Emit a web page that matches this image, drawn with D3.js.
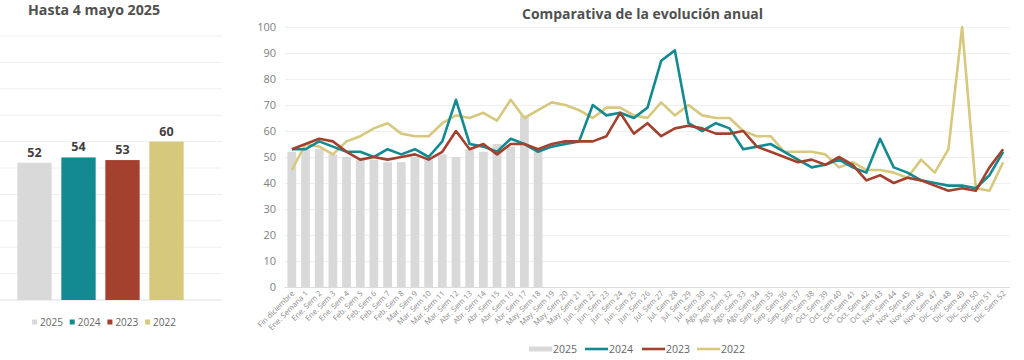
<!DOCTYPE html>
<html><head><meta charset="utf-8">
<script src="https://cdn.jsdelivr.net/npm/d3@7"></script>
<style>
body{margin:0;background:#fff;}
svg{display:block;font-family:"Open Sans",sans-serif;}
</style></head>
<body>
<svg id="c" width="1024" height="360"></svg>
<script>
// ---- data ----
const weeks = ["Fin diciembre","Ene. Semana 1","Ene. Sem 2","Ene. Sem 3","Ene. Sem 4","Feb. Sem 5","Feb. Sem 6","Feb. Sem 7","Feb. Sem 8","Mar. Sem 9","Mar. Sem 10","Mar. Sem 11","Mar. Sem 12","Abr. Sem 13","Abr. Sem 14","Abr. Sem 15","Abr. Sem 16","Abr. Sem 17","May. Sem 18","May. Sem 19","May. Sem 20","May. Sem 21","Jun. Sem 22","Jun. Sem 23","Jun. Sem 24","Jun. Sem 25","Jun. Sem 26","Jul. Sem 27","Jul. Sem 28","Jul. Sem 29","Jul. Sem 30","Ago. Sem 31","Ago. Sem 32","Ago. Sem 33","Ago. Sem 34","Sep. Sem 35","Sep. Sem 36","Sep. Sem 37","Sep. Sem 38","Oct. Sem 39","Oct. Sem 40","Oct. Sem 41","Oct. Sem 42","Oct. Sem 43","Nov. Sem 44","Nov. Sem 45","Nov. Sem 46","Nov. Sem 47","Dic. Sem 48","Dic. Sem 49","Dic. Sem 50","Dic. Sem 51","Dic. Sem 52"];
const values2025 = [52,53,53,51,50,49,49,48,48,50,49,51,50,53,52,55,54,66,52];
const values2024 = [53,53,56,54,52,52,50,53,51,53,50,56,72,55,54,52,57,55,52,54,55,56,70,66,67,65,69,87,91,63,60,63,61,53,54,55,52,49,46,47,49,46,44,57,46,44,41,40,39,39,38,43,52];
const values2023 = [53,55,57,56,52,49,50,49,50,51,49,52,60,53,55,51,55,55,53,55,56,56,56,58,67,59,63,58,61,62,61,59,59,60,54,52,50,48,49,47,50,47,41,43,40,42,41,39,37,38,37,46,53];
const values2022 = [45,55,54,51,56,58,61,63,59,58,58,63,66,65,67,64,72,65,68,71,70,68,65,69,69,66,65,71,66,70,66,65,65,60,58,58,52,52,52,51,46,48,45,45,44,42,49,44,53,100,38,37,48];
const yTicks = [0,10,20,30,40,50,60,70,80,90,100];
const years = ["2025","2024","2023","2022"];
const totals = [52,54,53,60];
const leftTitle = "Hasta 4 mayo 2025";
const mainTitle = "Comparativa de la evolución anual";

const colors = {"2025":"#d9d9d9","2024":"#138a91","2023":"#a4402e","2022":"#d6c87c"};

const svg = d3.select("#c");

// ---- left panel ----
const lx = d3.scaleBand().domain(years).range([12.5,188.5]).paddingInner(0.22).paddingOuter(0.11);
const ly = d3.scaleLinear().domain([0,100]).range([300,36]);
const lg = svg.append("g");
lg.selectAll("line.g").data(yTicks).join("line")
  .attr("x1",0).attr("x2",222).attr("y1",d=>ly(d)).attr("y2",d=>ly(d))
  .attr("stroke",d=>d===0?"#e0e0e0":"#efefef").attr("stroke-width",1);
lg.selectAll("rect").data(years).join("rect")
  .attr("x",d=>lx(d)).attr("width",lx.bandwidth())
  .attr("y",(d,i)=>ly(totals[i])).attr("height",(d,i)=>ly(0)-ly(totals[i]))
  .attr("fill",d=>colors[d]);
lg.selectAll("text.v").data(years).join("text")
  .attr("x",d=>lx(d)+lx.bandwidth()/2).attr("y",(d,i)=>ly(totals[i])-6)
  .attr("text-anchor","middle").attr("font-size",12.5).attr("font-weight",700)
  .attr("fill","#404040").text((d,i)=>totals[i]);
lg.append("text").attr("x",28).attr("y",15).attr("font-size",14.5).attr("font-weight",700)
  .attr("fill","#505050").attr("textLength",132).attr("lengthAdjust","spacingAndGlyphs").text(leftTitle);
const legL = lg.selectAll("g.lgl").data(years).join("g")
  .attr("transform",(d,i)=>`translate(${32+i*37.7},0)`);
legL.append("rect").attr("x",0).attr("y",319.5).attr("width",5).attr("height",5).attr("fill",d=>colors[d]);
legL.append("text").attr("x",8).attr("y",326).attr("font-size",10).attr("fill","#666").text(d=>d);

// ---- main chart ----
const x = d3.scaleBand().domain(weeks).range([285,1010]).paddingInner(0.36).paddingOuter(0.18);
const y = d3.scaleLinear().domain([0,100]).range([287,27]);
const cx = d => x(d)+x.bandwidth()/2;

const gy = svg.append("g").attr("transform","translate(285,0)")
  .call(d3.axisLeft(y).tickValues(yTicks).tickSize(-725).tickPadding(9));
gy.select(".domain").remove();
gy.selectAll(".tick line").attr("stroke",d=>d===0?"#dcdcdc":"#efefef");
gy.selectAll(".tick text").attr("font-size",11).attr("fill","#808080").attr("font-family","Open Sans");

const gx = svg.append("g").attr("transform","translate(0,287)")
  .call(d3.axisBottom(x).tickSize(0).tickPadding(0));
gx.select(".domain").remove();
gx.selectAll(".tick text").attr("font-size",7.6).attr("fill","#8a8a8a").attr("font-family","Open Sans")
  .attr("text-anchor","end").attr("dy",0)
  .attr("transform","translate(3,7) rotate(-45)");

svg.append("g").selectAll("rect").data(values2025).join("rect")
  .attr("x",(d,i)=>x(weeks[i])).attr("width",x.bandwidth())
  .attr("y",d=>y(d)).attr("height",d=>y(0)-y(d)).attr("fill",colors["2025"]);

const line = d3.line().x((d,i)=>cx(weeks[i])).y(d=>y(d));
[["2022",values2022],["2024",values2024],["2023",values2023]].forEach(([k,v])=>{
  svg.append("path").datum(v).attr("d",line).attr("fill","none")
    .attr("stroke",colors[k]).attr("stroke-width",2.6).attr("stroke-linejoin","round");
});
svg.append("text").attr("x",522).attr("y",19).attr("font-size",14.5).attr("font-weight",700)
  .attr("fill","#505050").attr("textLength",241).attr("lengthAdjust","spacingAndGlyphs").text(mainTitle);

// bottom legend
const legPos = [529,585,642,697];
const lb = svg.append("g");
years.forEach((k,i)=>{
  if(k==="2025") lb.append("rect").attr("x",legPos[i]).attr("y",346.5).attr("width",23).attr("height",5).attr("fill",colors[k]);
  else lb.append("line").attr("x1",legPos[i]).attr("x2",legPos[i]+23).attr("y1",349).attr("y2",349).attr("stroke",colors[k]).attr("stroke-width",2.6);
  lb.append("text").attr("x",legPos[i]+24).attr("y",353).attr("font-size",10.5).attr("fill","#666").text(k);
});
</script>
</body></html>
